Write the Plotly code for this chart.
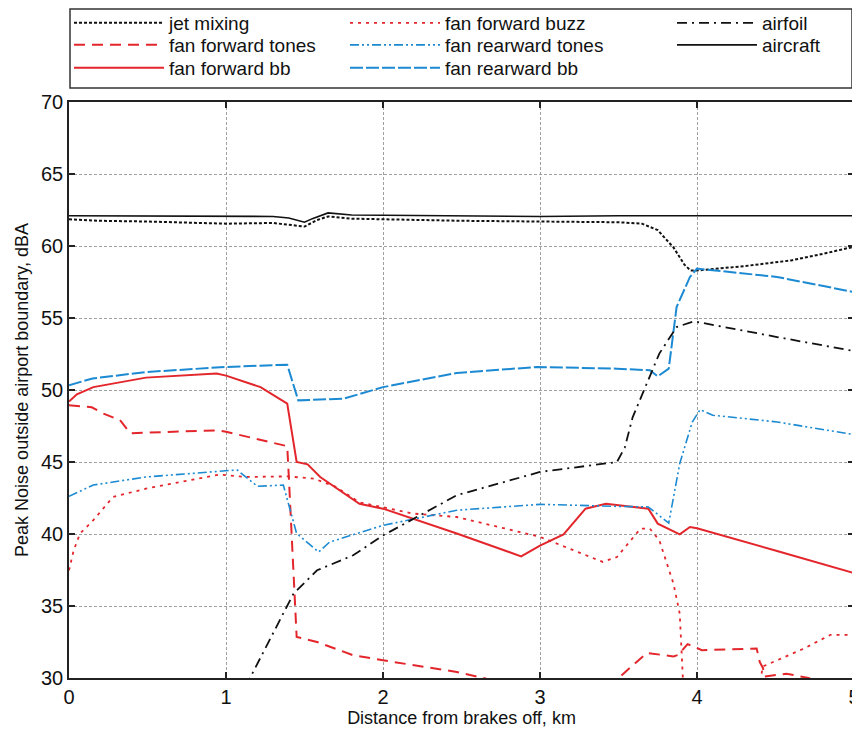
import plotly.graph_objects as go

# ---------------- data ----------------
jet_x = [0, 0.2, 0.5, 0.8, 1.0, 1.3, 1.45, 1.5, 1.58, 1.65, 1.8, 2.5, 3.0, 3.5, 3.65, 3.75, 3.85, 3.92, 3.96, 4.0, 4.3, 4.6, 4.8, 5.0]
jet_y = [61.85, 61.75, 61.7, 61.6, 61.55, 61.6, 61.45, 61.35, 61.8, 62.05, 61.9, 61.75, 61.7, 61.65, 61.55, 61.1, 59.9, 58.7, 58.3, 58.3, 58.6, 59.0, 59.45, 59.95]

ffwd_tones_x = [0, 0.145, 0.22, 0.325, 0.39, 0.94, 1.0, 1.39, 1.40, 1.43, 1.45, 1.58, 1.81, 2.0, 2.47, 2.64, 2.8, 3.4, 3.5, 3.68, 3.85, 3.88, 3.94, 3.99, 4.03, 4.38, 4.40, 4.42, 4.43, 4.57, 4.71, 4.8]
ffwd_tones_y = [48.94, 48.8, 48.36, 47.9, 47.0, 47.2, 47.1, 46.1, 44.0, 37.0, 32.85, 32.5, 31.58, 31.23, 30.42, 30.0, 29.5, 29.2, 30.0, 31.74, 31.5, 31.6, 32.35, 32.15, 31.93, 32.04, 31.1, 30.7, 30.1, 30.3, 30.0, 29.6]

ffwd_bb_x = [0, 0.05, 0.155, 0.49, 0.94, 1.0, 1.22, 1.39, 1.45, 1.52, 1.60, 1.85, 2.0, 2.47, 2.88, 3.0, 3.15, 3.29, 3.42, 3.69, 3.75, 3.89, 3.955, 4.0, 4.51, 5.0]
ffwd_bb_y = [49.2, 49.7, 50.2, 50.86, 51.14, 51.0, 50.2, 49.05, 45.0, 44.84, 43.96, 42.1, 41.76, 40.03, 38.45, 39.2, 39.97, 41.76, 42.1, 41.76, 40.72, 39.97, 40.49, 40.4, 38.82, 37.29]

ffwd_buzz_x = [0, 0.03, 0.07, 0.155, 0.28, 0.49, 0.96, 1.13, 1.39, 1.56, 1.70, 1.85, 2.19, 2.47, 3.0, 3.40, 3.49, 3.64, 3.70, 3.76, 3.85, 3.89, 3.91, 3.95, 4.38, 4.42, 4.51, 4.68, 4.85, 5.0]
ffwd_buzz_y = [37.48, 38.87, 40.03, 40.96, 42.57, 43.15, 44.13, 43.96, 44.0, 43.85, 43.27, 42.2, 41.42, 41.18, 39.8, 38.06, 38.4, 40.37, 40.37, 39.56, 36.56, 34.47, 30.0, 28.5, 28.5, 30.8, 31.23, 32.04, 33.0, 33.0]

frwd_tones_x = [0, 0.155, 0.49, 1.0, 1.07, 1.2, 1.365, 1.45, 1.59, 1.66, 2.0, 2.47, 3.0, 3.49, 3.69, 3.82, 3.89, 3.97, 4.02, 4.1, 4.51, 5.0]
frwd_tones_y = [42.62, 43.4, 43.96, 44.42, 44.45, 43.31, 43.4, 40.03, 38.75, 39.44, 40.6, 41.65, 42.06, 41.92, 41.88, 40.76, 44.89, 47.78, 48.64, 48.25, 47.78, 46.9]

frwd_bb_x = [0, 0.15, 0.49, 1.0, 1.39, 1.46, 1.75, 2.0, 2.47, 2.98, 3.49, 3.70, 3.75, 3.82, 3.87, 3.955, 4.0, 4.51, 5.0]
frwd_bb_y = [50.33, 50.8, 51.25, 51.6, 51.76, 49.28, 49.4, 50.2, 51.18, 51.6, 51.48, 51.37, 50.95, 51.48, 55.76, 57.85, 58.43, 57.85, 56.8]

airfoil_x = [1.12, 1.153, 1.43, 1.58, 1.81, 2.0, 2.47, 3.0, 3.49, 3.54, 3.59, 3.69, 3.76, 3.87, 3.98, 4.51, 5.0]
airfoil_y = [29.4, 30.0, 35.86, 37.48, 38.52, 39.9, 42.69, 44.31, 45.0, 46.0, 48.1, 50.67, 52.53, 54.37, 54.77, 53.68, 52.7]

aircraft_x = [0, 0.2, 0.5, 1.0, 1.3, 1.4, 1.5, 1.55, 1.65, 1.8, 2.5, 3.0, 3.5, 4.0, 4.5, 5.0]
aircraft_y = [62.1, 62.1, 62.05, 62.05, 62.05, 61.95, 61.65, 61.9, 62.3, 62.15, 62.1, 62.05, 62.1, 62.1, 62.1, 62.1]

x_ticks = [0, 1, 2, 3, 4, 5]
y_ticks = [30, 35, 40, 45, 50, 55, 60, 65, 70]

RED = "#e3262b"
BLUE = "#1c8ad2"
BLACK = "#111111"

series = [
    ("jet mixing", jet_x, jet_y, BLACK, 2.0, "3px,2px", "legend"),
    ("fan forward tones", ffwd_tones_x, ffwd_tones_y, RED, 2.0, "11px,7px", "legend2"),
    ("fan forward bb", ffwd_bb_x, ffwd_bb_y, RED, 2.0, "solid", "legend3"),
    ("fan forward buzz", ffwd_buzz_x, ffwd_buzz_y, RED, 1.8, "3px,5px", "legend4"),
    ("fan rearward tones", frwd_tones_x, frwd_tones_y, BLUE, 1.6, "9px,3px,2px,3px,2px,3px", "legend5"),
    ("fan rearward bb", frwd_bb_x, frwd_bb_y, BLUE, 2.0, "13px,3px", "legend6"),
    ("airfoil", airfoil_x, airfoil_y, BLACK, 1.8, "10px,5px,2px,5px", "legend7"),
    ("aircraft", aircraft_x, aircraft_y, BLACK, 1.6, "solid", "legend8"),
]

fig = go.Figure()
for name, xs, ys, col, w, dash, lg in series:
    fig.add_trace(go.Scatter(x=xs, y=ys, mode="lines", name=name, legend=lg, showlegend=True,
                             line=dict(color=col, width=w, dash=dash)))

FONT = "Liberation Sans, Arial, sans-serif"
OFF = 8  # the page places the figure 8 px from the window's top-left corner
W, H = 860 - OFF, 730 - OFF
L, R, T, B = 69 - OFF, 6, 102 - OFF, 52
pw, ph = W - L - R, H - T - B

def px2x(px):
    return (px - OFF - L) / pw

def py2y(py):
    return (H - B - (py - OFF)) / ph

# legend slots (window pixel column starts and row centres)
cols = [69, 345, 672]
rows = [23, 45, 68]
slots = {
    "legend": (cols[0], rows[0]), "legend2": (cols[0], rows[1]), "legend3": (cols[0], rows[2]),
    "legend4": (cols[1], rows[0]), "legend5": (cols[1], rows[1]), "legend6": (cols[1], rows[2]),
    "legend7": (cols[2], rows[0]), "legend8": (cols[2], rows[1]),
}
iw = {"legend": 90, "legend2": 90, "legend3": 90, "legend4": 90, "legend5": 90, "legend6": 90,
      "legend7": 80, "legend8": 80}
layout_legends = {}
for k, (cx, cy) in slots.items():
    layout_legends[k] = dict(x=px2x(cx), y=py2y(cy), xanchor="left", yanchor="middle",
                             bgcolor="rgba(0,0,0,0)", borderwidth=0, itemwidth=iw[k],
                             font=dict(family=FONT, size=19, color="#111"))

fig.update_layout(
    width=W, height=H,
    margin=dict(l=L, r=R, t=T, b=B, autoexpand=False),
    paper_bgcolor="white", plot_bgcolor="white",
    showlegend=True,
    font=dict(family=FONT, size=18, color="#111"),
    **layout_legends,
    shapes=[dict(type="rect", xref="paper", yref="paper",
                 x0=px2x(70), x1=px2x(852), y0=py2y(88), y1=py2y(9),
                 line=dict(color="#333", width=1.5), fillcolor="rgba(0,0,0,0)")],
)
fig.update_xaxes(range=[0, 5], tickvals=x_ticks, showline=True, linecolor="#222", linewidth=1.5,
                 mirror="ticks", ticks="inside", ticklen=6, tickwidth=2, tickcolor="#222",
                 showgrid=True, gridcolor="#a0a0a0", griddash="3px,2px", gridwidth=1,
                 zeroline=False, tickfont=dict(size=20),
                 title=dict(text="Distance from brakes off, km", font=dict(size=18), standoff=2))
fig.update_yaxes(range=[30, 70], tickvals=y_ticks, showline=True, linecolor="#222", linewidth=1.5,
                 mirror="ticks", ticks="inside", ticklen=6, tickwidth=2, tickcolor="#222",
                 showgrid=True, gridcolor="#a0a0a0", griddash="3px,2px", gridwidth=1,
                 zeroline=False, tickfont=dict(size=20),
                 title=dict(text="Peak Noise outside airport boundary, dBA", font=dict(size=18), standoff=8))

fig.write_html("out.html")
